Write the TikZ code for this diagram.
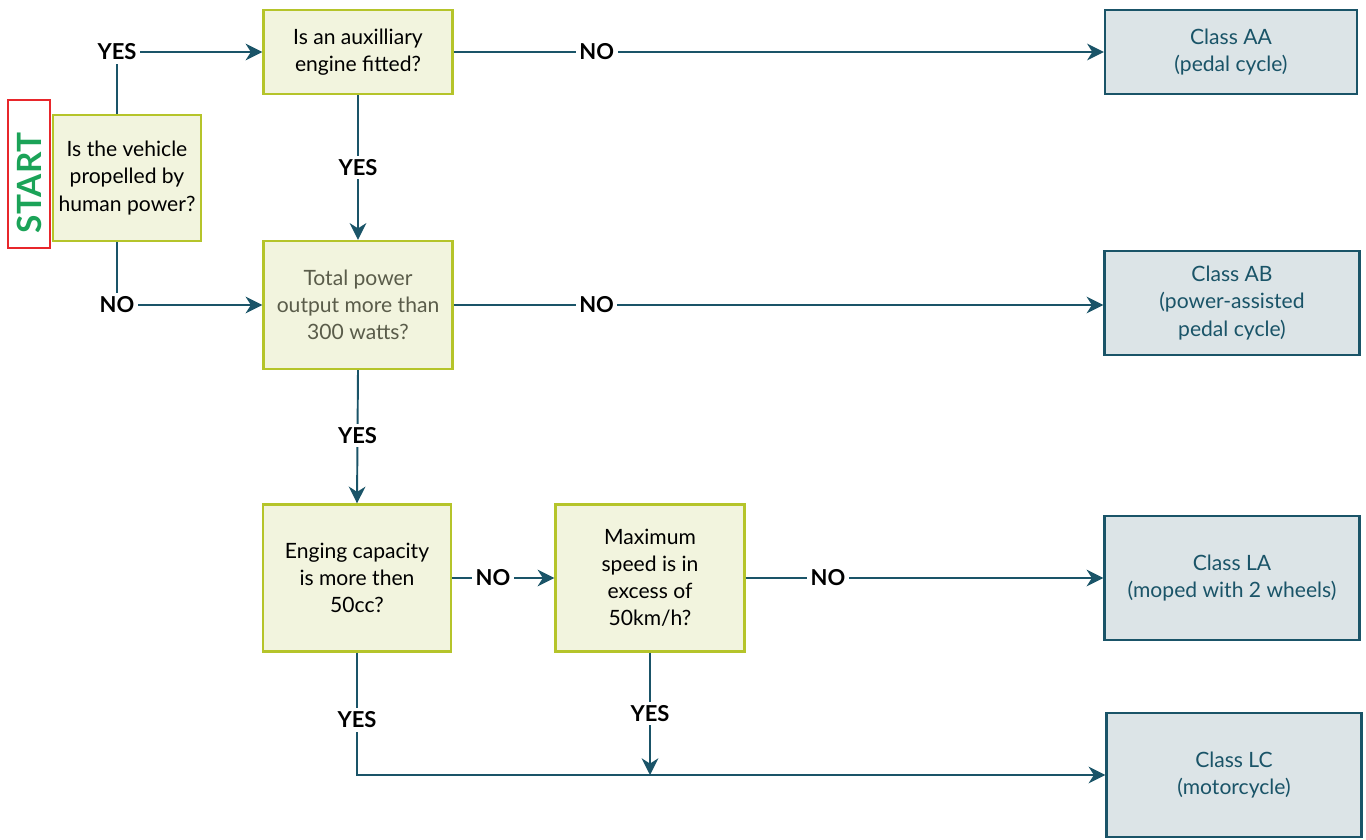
\documentclass[tikz,border=0pt]{standalone}
\usepackage{fontspec}
\setmainfont{Lato}
\usepackage{xcolor}
\usetikzlibrary{arrows.meta, calc}

\definecolor{qfill}{HTML}{F2F4DE}
\definecolor{qline}{HTML}{B5C42A}
\definecolor{qgray}{HTML}{5A5C4A}
\definecolor{cfill}{HTML}{DCE4E7}
\definecolor{cline}{HTML}{1A5468}
\definecolor{startred}{HTML}{E8262B}
\definecolor{startgreen}{HTML}{1BA358}

\begin{document}
\begin{tikzpicture}[
  x=0.02cm, y=-0.02cm,
  question/.style={rectangle, draw=qline, fill=qfill, line width=1.4pt, align=center, inner sep=0pt, font=\fontsize{12}{15.4}\selectfont},
  classbox/.style={rectangle, draw=cline, fill=cfill, line width=1.4pt, align=center, inner sep=0pt, text=cline, font=\fontsize{12}{15.4}\selectfont},
  arrow/.style={-{Stealth[length=9.5pt, width=9.5pt, inset=3pt]}, draw=cline, line width=1.1pt},
  answer/.style={fill=white, inner sep=2pt, font=\fontsize{12.5}{14}\selectfont\bfseries}
]
  \useasboundingbox (0,0) rectangle (1366,839);

  % start marker and questions
  \node[draw=startred, line width=1pt, minimum width=0.84cm, minimum height=2.96cm, inner sep=0pt] (start) at (29,174) {};
  \node[rotate=90, text=startgreen, font=\fontsize{19}{21}\selectfont\bfseries] (starttext) at (29,183) {START};
  \node[question, minimum width=2.96cm, minimum height=2.52cm] (human) at (127,178) {Is the vehicle\\propelled by\\human power?};
  \node[question, minimum width=3.78cm, minimum height=1.68cm] (engine) at (358,52) {Is an auxilliary\\engine fitted?};
  \node[question, minimum width=3.78cm, minimum height=2.56cm, text=qgray] (power) at (358,305) {Total power\\output more than\\300 watts?};
  \node[question, minimum width=3.76cm, minimum height=2.94cm] (capacity) at (357,578) {Enging capacity\\is more then\\50cc?};
  \node[question, minimum width=3.78cm, minimum height=2.94cm] (speed) at (650,578) {Maximum\\speed is in\\excess of\\50km/h?};

  % classes
  \node[classbox, minimum width=5.04cm, minimum height=1.68cm] (AA) at (1231,52) {Class AA\\(pedal cycle)};
  \node[classbox, minimum width=5.1cm, minimum height=2.08cm] (AB) at (1232,303) {Class AB\\(power-assisted\\pedal cycle)};
  \node[classbox, minimum width=5.1cm, minimum height=2.48cm] (LA) at (1232,578) {Class LA\\(moped with 2 wheels)};
  \node[classbox, minimum width=5.1cm, minimum height=2.48cm] (LC) at (1234,775) {Class LC\\(motorcycle)};

  % helper points
  \coordinate (yescorner) at (117,52);
  \coordinate (nocorner) at (117,305);
  \coordinate (lccorner) at (357,775);
  \coordinate (join) at (650,775);

  % connectors
  \draw[arrow] (human.north -| yescorner) -- (yescorner) node[answer] {YES} -- (engine.west);
  \draw[arrow] (human.south -| nocorner) -- (nocorner) node[answer] {NO} -- (power.west);
  \draw[arrow] (engine.east) -- node[answer, pos=0.22] {NO} (AA.west);
  \draw[arrow] (engine.south) -- node[answer, pos=0.5] {YES} (power.north);
  \draw[arrow] (power.east) -- node[answer, pos=0.22] {NO} (power.east -| AB.west);
  \draw[arrow] (power.south) -- node[answer, pos=0.49] {YES} (capacity.north);
  \draw[arrow] (capacity.east) -- node[answer, pos=0.4] {NO} (speed.west);
  \draw[arrow] (speed.east) -- node[answer, pos=0.23] {NO} (LA.west);
  \draw[arrow] (capacity.south) -- node[answer, pos=0.55] {YES} (lccorner) -- (LC.west);
  \draw[arrow] (speed.south) -- node[answer, pos=0.5] {YES} (join);
\end{tikzpicture}
\end{document}
